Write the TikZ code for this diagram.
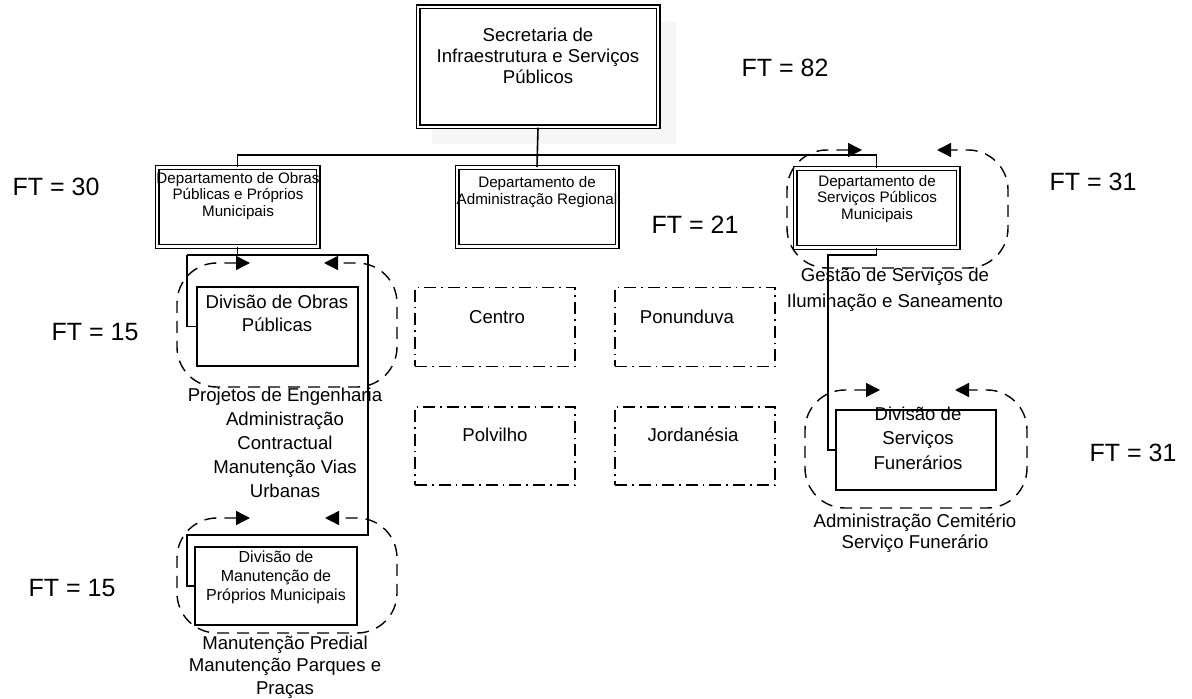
\documentclass[tikz,border=0pt]{standalone}
\usepackage{fontspec}
\setmainfont{Liberation Sans}
\usetikzlibrary{arrows.meta,positioning}

\begin{document}
\begin{tikzpicture}[x=0.5pt, y=-0.5pt,
  deptbox/.style={draw, double, double distance=1.1pt, line width=0.7pt, fill=white, inner sep=0pt},
  divbox/.style={draw, line width=0.7pt, fill=white, inner sep=0pt},
  regbox/.style={draw, line width=0.7pt, dash pattern=on 6pt off 2.5pt on 0.8pt off 2.5pt,
                 minimum width=80pt, minimum height=39.5pt, inner sep=0pt},
  conn/.style={line width=0.8pt},
  loopline/.style={line width=0.7pt, dash pattern=on 6pt off 4pt, rounded corners=20pt,
                   {Triangle[length=7pt,width=7pt]}-{Triangle[length=7pt,width=7pt]}},
  ftlabel/.style={font=\fontsize{12.5}{14}\selectfont, inner sep=0pt},
  txt/.style={align=center, font=\fontsize{9.3}{11.5}\selectfont, inner sep=0pt},
  smalltxt/.style={align=center, font=\fontsize{7.6}{8.3}\selectfont, inner sep=0pt}]
\useasboundingbox (0,0) rectangle (1192,699);

% shadow of the top box
\fill[gray!7] (432,22) rectangle (676,144);

% boxes
\node[deptbox, minimum width=120pt, minimum height=60pt] (sec) at (538,67) {};
\node[deptbox, minimum width=80.5pt, minimum height=39.5pt] (obras) at (237.5,207) {};
\node[deptbox, minimum width=80pt, minimum height=39.5pt] (adm) at (537,207) {};
\node[deptbox, minimum width=81.5pt, minimum height=39.5pt] (serv) at (876.5,208) {};

% connectors
\coordinate (bus) at (538,155);
\coordinate (obL) at (187,255);
\coordinate (obR) at (368,255);
\coordinate (manL) at (187,535);
\coordinate (svL) at (828,255);
\draw[conn] (sec.south) -- (adm.north);
\draw[conn] (obras.north) |- (bus) -| (serv.north);
\draw[conn] (obras.south) -- (obras.south |- obL);
\draw[conn] (obL) -- (obR);

\node[divbox, minimum width=80.5pt, minimum height=39.5pt] (divobras) at (277.5,326.5) {};
\node[divbox, minimum width=81pt, minimum height=39pt] (divman) at (276,586) {};
\node[divbox, minimum width=80pt, minimum height=40pt] (divfun) at (916,450) {};

\draw[conn] (obL) |- (divobras.west);
\draw[conn] (obR) |- (manL) |- (divman.west);
\draw[conn] (serv.south) |- (svL) |- (divfun.west);

% regional offices
\node[regbox] (centro) at (495,327) {};
\node[regbox] (ponund) at (695,327) {};
\node[regbox, minimum height=39pt] (polv) at (495,446) {};
\node[regbox, minimum height=39pt] (jord) at (695,446) {};
\node[txt] (centrotxt) at (497,317) {Centro};
\node[txt] (ponundtxt) at (687,317) {Ponunduva};
\node[txt] (polvtxt) at (495,435) {Polvilho};
\node[txt] (jordtxt) at (693,435) {Jordanésia};

% cycle loops
\draw[loopline] (250,263) -- (177,263) -- (177,387) -- (397,387) -- (397,263) -- (324,263);
\draw[loopline] (250,518) -- (177,518) -- (177,633) -- (397,633) -- (397,518) -- (325,518);
\draw[loopline] (862,150) -- (787,150) -- (787,268) -- (1008,268) -- (1008,150) -- (937,150);
\draw[loopline] (880,390) -- (805,390) -- (805,508) -- (1027,508) -- (1027,390) -- (955,390);

% box texts
\node[txt, font=\fontsize{9.3}{10.5}\selectfont] (sectxt) at (538,56)
  {Secretaria de\\Infraestrutura e Serviços\\Públicos};
\node[smalltxt] (obrastxt) at (238,196)
  {Departamento de Obras\\Públicas e Próprios\\Municipais};
\node[smalltxt] (admtxt) at (537,192)
  {Departamento de\\Administração Regional};
\node[smalltxt] (servtxt) at (877,199)
  {Departamento de\\Serviços Públicos\\Municipais};
\node[txt] (divobrastxt) at (277,313) {Divisão de Obras\\Públicas};
\node[smalltxt, font=\fontsize{8}{9.5}\selectfont] (divmantxt) at (276,577)
  {Divisão de\\Manutenção de\\Próprios Municipais};
\node[txt, font=\fontsize{9.3}{12.2}\selectfont] (divfuntxt) at (918,438)
  {Divisão de\\Serviços\\Funerários};

% activities
\node[txt, font=\fontsize{9.3}{12}\selectfont] (projtxt) at (285,443)
  {Projetos de Engenharia\\Administração\\Contractual\\Manutenção Vias\\Urbanas};
\node[txt, font=\fontsize{9.3}{11.2}\selectfont] (manuttxt) at (285,667)
  {Manutenção Predial\\Manutenção Parques e\\Praças};
\node[txt, font=\fontsize{9.3}{13}\selectfont] (gesttxt) at (895,290)
  {Gestão de Serviços de\\Iluminação e Saneamento};
\node[txt, font=\fontsize{9.3}{10.8}\selectfont] (cemtxt) at (915,533)
  {Administração Cemitério\\Serviço Funerário};

% FT values
\node[ftlabel] (ft82) at (785,68) {FT = 82};
\node[ftlabel] (ft30) at (56,187) {FT = 30};
\node[ftlabel] (ft21) at (695,225) {FT = 21};
\node[ftlabel] (ft31a) at (1093,182) {FT = 31};
\node[ftlabel] (ft15a) at (95,332) {FT = 15};
\node[ftlabel] (ft15b) at (72,588) {FT = 15};
\node[ftlabel] (ft31b) at (1133,453) {FT = 31};
\end{tikzpicture}
\end{document}
